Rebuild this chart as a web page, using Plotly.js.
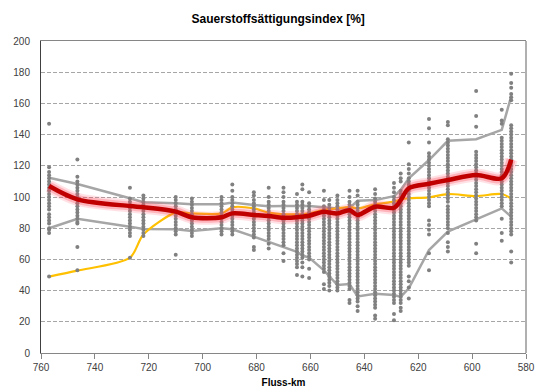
<!DOCTYPE html>
<html>
<head>
<meta charset="utf-8">
<script src="https://cdn.plot.ly/plotly-3.0.1.min.js"></script>
<style>html,body{margin:0;padding:0;background:#fff;}#chart{width:535px;height:391px;}</style>
</head>
<body>
<div id="chart"></div>
<script>
// Station positions (Fluss-km)
const stationKm = [757, 746.5, 727, 722, 710, 704, 693, 689, 681, 675.5, 670, 665, 663, 660.5, 655, 653, 650, 645.5, 642.5, 636, 629, 626.5, 623.5, 616, 609, 598.5, 589, 585.5];
// Upper gray line (upper percentile)
const upperLine = [112.4, 108.3, 99.2, 96.6, 96, 95.3, 95.3, 96.4, 94.9, 94, 94.2, 94.2, 94.2, 94.2, 93.4, 93, 92.7, 93, 97.6, 98, 100.5, 104.5, 112, 123.7, 136, 137, 143, 164.5];
// Lower gray line (lower percentile)
const lowerLine = [80, 86, 81, 79.5, 79.3, 78.2, 79.9, 79.3, 74.6, 71.3, 67.8, 64.9, 62.5, 61.2, 53, 49, 43.6, 44.2, 36.3, 38, 37.2, 36, 41.5, 66, 77.8, 85.7, 92.7, 87.4];
// Median (red)
const medianLine = [107, 98.5, 94.2, 93.4, 90.6, 87, 87, 89.5, 88.5, 87.8, 86.7, 87, 87.4, 88, 90.6, 90, 89.5, 91.5, 88.5, 93.8, 93.1, 98, 105.6, 108.5, 110.9, 114.1, 112, 124];
// Yellow line
const yellowLine = [49, 52.8, 61.1, 76, 90, 89.5, 89.5, 93.4, 92.7, 90, 88.9, 88.9, 88.9, 89.5, 91.7, 92.2, 92.7, 93.6, 92.7, 95.3, 97, 98.5, 99.2, 99.8, 101.9, 100.6, 101.9, 99];
// Individual measurements per station (gray dots)
const dotValues = [
  [147,119,116,114,112,110,108,106,104,102,100,98,96,94,92,89,87,85,83,80,79,77,49],
  [124,113,110,108,106,104,102,100,98,96,94,92,90,88,86,84,83,68,53],
  [106,99,97,95,93,91,89,87,85,83,81,79,77,75,61],
  [101,99,97,95,93,91,89,87,85,83,81,79,77,75],
  [100,98,96,94,92,90,88,86,84,82,80,78,76,63],
  [99,97,95,93,91,89,87,85,83,81,79,77,75],
  [100,98,96,94,92,90,88,86,84,82,80,78,76],
  [108,104,100,98,96,94,92,90,88,86,84,82,80,78,76],
  [103,101,98,96,94,92,90,88,86,84,82,80,78,76,74,68,66],
  [106,100,97,95,93,91,89,87,85,83,81,79,77,75,73,70,67],
  [106,103,100,97,95,93,91,89,87,85,83,81,79,77,75,73,71,69,64,59],
  [102,97,95,93,91,89,87,85,83,81,79,77,75,73,71,69,67,65,63,61,59,57,55,50],
  [108,105,97,95,93,91,89,87,85,83,81,79,77,75,73,71,69,67,65,63,61,58,55,49],
  [103,96,94,92,90,88,86,84,82,80,78,76,74,72,70,68,66,64,62,60,54,48],
  [104,98,94,92,90,88,86,84,82,80,78,76,74,72,70,68,66,64,62,60,58,56,54,52,44,41],
  [98,95,93,91,89,87,85,83,81,79,77,75,73,71,69,67,65,63,61,59,57,55,53,51,49,47,45,43,40],
  [101,98,96,94,92,90,88,86,84,82,80,78,76,74,72,70,68,66,64,62,60,58,56,54,52,50,48,46,44,42,40],
  [104,100,97,95,93,91,89,87,85,83,81,79,77,75,73,71,69,67,65,63,61,59,57,55,53,51,49,47,45,43,41,34,32],
  [104,101,97,95,93,91,89,87,85,83,81,79,77,75,73,71,69,67,65,63,61,59,57,55,53,51,49,47,45,43,41,39,37,35,33,30,27],
  [105,102,99,97,95,93,91,89,87,85,83,81,79,77,75,73,71,69,67,65,63,61,59,57,55,53,51,49,47,45,43,41,39,37,35,33,31,29,24,22],
  [109,106,103,100,98,96,94,92,90,88,86,84,82,80,78,76,74,72,70,68,66,64,62,60,58,56,54,52,50,48,46,44,42,40,38,36,34,32,25,21],
  [115,112,110,104,102,100,98,96,94,92,90,88,86,84,82,80,78,76,74,72,70,68,66,64,62,60,58,56,54,52,50,48,46,44,42,40,38,36,34,32,29,27],
  [135,121,118,115,112,110,108,106,104,102,100,98,96,94,92,90,88,86,84,82,80,78,76,74,72,70,68,66,64,62,60,58,56,49,46,42,35],
  [150,144,135,128,126,124,122,120,118,116,114,112,110,108,106,104,102,100,98,96,94,85,82,79,76,64,53],
  [148,146,137,135,133,131,129,127,125,123,121,119,117,115,113,111,109,107,105,103,101,99,97,94,92,90,88,86,84,82,80,77,71,68,65],
  [168,152,145,129,127,125,123,121,119,117,115,113,111,109,107,105,103,101,99,97,95,93,91,89,87,85,70,64],
  [156,149,147,138,136,134,132,130,128,126,124,122,120,118,116,114,112,110,108,106,104,102,100,98,96,94,86,77,72],
  [179,173,170,166,164,162,146,144,142,140,138,136,134,132,130,128,126,124,122,120,118,116,114,112,110,108,106,104,102,100,98,96,94,92,90,88,86,84,82,80,78,76,65,58]
];
const xTicks = [760, 740, 720, 700, 680, 660, 640, 620, 600, 580];
const yTicks = [0, 20, 40, 60, 80, 100, 120, 140, 160, 180, 200];

const dotX = [], dotY = [];
dotValues.forEach((vals, i) => vals.forEach(v => { dotX.push(stationKm[i]); dotY.push(v); }));

const traces = [
  {x: stationKm, y: upperLine, mode: 'lines', line: {color: '#a6a6a6', width: 2.5}, hoverinfo: 'skip'},
  {x: stationKm, y: lowerLine, mode: 'lines', line: {color: '#a6a6a6', width: 2.5}, hoverinfo: 'skip'},
  {x: stationKm, y: yellowLine, mode: 'lines', line: {color: '#ffc000', width: 2.2, shape: 'spline', smoothing: 0.8}, hoverinfo: 'skip'},
  {x: dotX, y: dotY, mode: 'markers', marker: {color: '#808080', size: 4}, hoverinfo: 'skip'},
  {x: stationKm, y: medianLine, mode: 'lines', line: {color: 'rgba(255,90,110,0.18)', width: 13, shape: 'spline', smoothing: 0.9}, hoverinfo: 'skip'},
  {x: stationKm, y: medianLine, mode: 'lines', line: {color: 'rgba(255,60,80,0.28)', width: 9, shape: 'spline', smoothing: 0.9}, hoverinfo: 'skip'},
  {x: stationKm, y: medianLine, mode: 'lines', line: {color: '#c00000', width: 4.5, shape: 'spline', smoothing: 0.9}, hoverinfo: 'skip'}
];

const layout = {
  width: 535, height: 391,
  margin: {l: 41, r: 9, t: 41, b: 38},
  paper_bgcolor: '#ffffff', plot_bgcolor: '#ffffff',
  showlegend: false,
  font: {family: 'Liberation Sans, Arial, sans-serif', size: 10, color: '#404040'},
  title: {text: '<b>Sauerstoffsättigungsindex [%]</b>', x: 0.52, xanchor: 'center', xref: 'container', y: 0.953, yanchor: 'middle', yref: 'container',
          font: {family: 'Liberation Sans, Arial, sans-serif', size: 12, color: '#000000'}},
  xaxis: {
    range: [760, 580], tickvals: xTicks, ticktext: xTicks.map(String),
    ticks: 'outside', ticklen: 5, tickcolor: '#868686', tickwidth: 1,
    showline: true, linecolor: '#868686', linewidth: 1, mirror: true,
    showgrid: false, zeroline: false,
    title: {text: '<b>Fluss-km</b>', font: {size: 10, color: '#000000'}, standoff: 6}
  },
  yaxis: {
    range: [0, 200], tickvals: yTicks, ticktext: yTicks.map(String),
    ticks: 'outside', ticklen: 8, tickcolor: 'rgba(0,0,0,0)',
    showline: true, linecolor: '#404040', linewidth: 1,
    showgrid: true, gridcolor: '#a6a6a6', gridwidth: 1, griddash: '4px,2px',
    zeroline: false
  },
  shapes: [
    {type: 'line', xref: 'paper', yref: 'paper', x0: 1, x1: 1, y0: 0, y1: 1, line: {color: '#b0b0b0', width: 2}}
  ]
};

Plotly.newPlot('chart', traces, layout, {staticPlot: true, displayModeBar: false});
</script>
</body>
</html>
